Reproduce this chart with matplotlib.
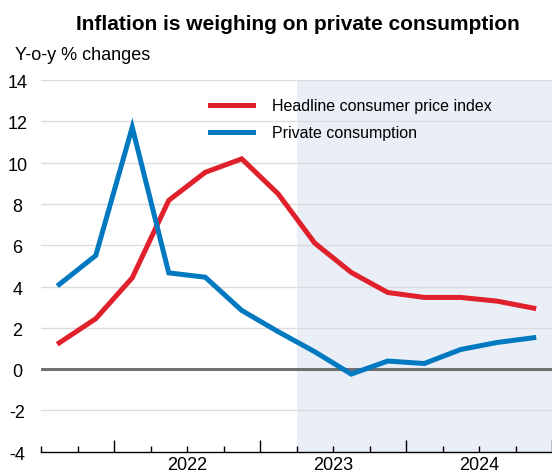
import matplotlib
matplotlib.use("Agg")
import matplotlib.pyplot as plt
import matplotlib.transforms as mtransforms

plt.rcParams['font.family'] = ['Liberation Sans', 'DejaVu Sans']
plt.rcParams['axes.unicode_minus'] = False

# quarterly points, 2021Q3 .. 2024Q4
quarters = ['2021Q3', '2021Q4', '2022Q1', '2022Q2', '2022Q3', '2022Q4',
            '2023Q1', '2023Q2', '2023Q3', '2023Q4',
            '2024Q1', '2024Q2', '2024Q3', '2024Q4']
cpi = [1.27, 2.44, 4.42, 8.17, 9.53, 10.18, 8.48, 6.1, 4.68, 3.71, 3.47, 3.47, 3.29, 2.95]
consumption = [4.1, 5.5, 11.71, 4.66, 4.45, 2.84, 1.81, 0.84, -0.24, 0.39, 0.27, 0.95, 1.29, 1.52]
year_labels = ['2022', '2023', '2024']
year_centres = [3.5, 7.5, 11.5]
year_starts = [1.5, 5.5, 9.5, 13.5]
shade_from = 6.5

red = '#e0202b'
blue = '#0079c1'

fig = plt.figure(figsize=(5.52, 4.73), dpi=100)
ax = fig.add_axes([41 / 552, 21.3 / 473, 511 / 552, 371.7 / 473])

x = list(range(len(quarters)))
ax.set_xlim(-0.5, 13.44)
ax.set_ylim(-4, 14)

ax.axvspan(shade_from, 20, color='#eaeef6', zorder=0, lw=0)
for yv in range(-2, 15, 2):
    if yv != 0:
        ax.axhline(yv, color='#dcdcdc', lw=1, zorder=1)
ax.axhline(0, color='#707070', lw=2.2, zorder=2)

ax.plot(x, cpi, color=red, lw=3.6, label='Headline consumer price index', zorder=3,
        solid_joinstyle='miter')
ax.plot(x, consumption, color=blue, lw=3.6, label='Private consumption', zorder=3,
        solid_joinstyle='miter')

for s in ['top', 'right', 'left']:
    ax.spines[s].set_visible(False)
ax.spines['bottom'].set_linewidth(1)

ax.set_yticks(range(-4, 15, 2))
ax.tick_params(axis='y', length=0, pad=17, labelsize=13)
off = mtransforms.ScaledTranslation(0, -1.5 / 100, fig.dpi_scale_trans)
for lab in ax.get_yticklabels():
    lab.set_ha('center')
    lab.set_transform(lab.get_transform() + off)

ax.set_xticks(year_starts)
ax.set_xticks([i + 0.5 for i in range(-1, 14)], minor=True)
ax.set_xticklabels([])
ax.tick_params(axis='x', which='major', direction='in', length=9, width=1)
ax.tick_params(axis='x', which='minor', direction='in', length=4.3, width=1)

trans = mtransforms.blended_transform_factory(ax.transData, fig.transFigure)
for xc, lab in zip(year_centres, year_labels):
    ax.text(xc, 1 - 465 / 473, lab, transform=trans, ha='center', va='center', fontsize=13)

fig.text(297.5 / 552, 1 - 24 / 473, 'Inflation is weighing on private consumption',
         ha='center', va='center', fontsize=15, fontweight='bold')
fig.text(15 / 552, 1 - 56 / 473, 'Y-o-y % changes', ha='left', va='center', fontsize=13)

ax.legend(loc='upper left', bbox_to_anchor=(210 / 552, 1 - 99 / 473),
          bbox_transform=fig.transFigure, frameon=False, fontsize=11.5,
          handlelength=2.7, handletextpad=1.2, labelspacing=0.75, borderpad=0,
          borderaxespad=0)

fig.savefig('out.png', dpi=100)
